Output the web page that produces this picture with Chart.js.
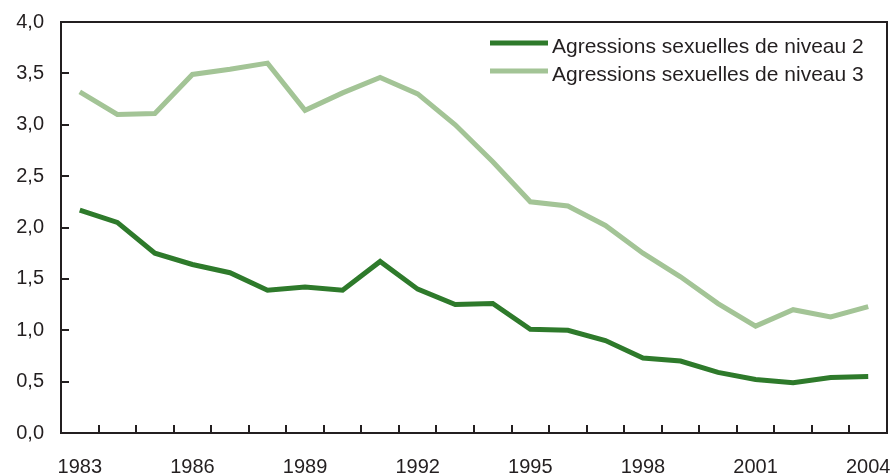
<!DOCTYPE html>
<html>
<head>
<meta charset="utf-8">
<script src="https://cdn.jsdelivr.net/npm/chart.js@4/dist/chart.umd.min.js"></script>
<style>
  html, body { margin: 0; padding: 0; background: #fff; }
  #wrap { width: 892px; height: 475px; }
</style>
</head>
<body>
<div id="wrap"><canvas id="chart" width="892" height="475"></canvas></div>
<script>
// Data
const years = ['1983', '1984', '1985', '1986', '1987', '1988', '1989', '1990', '1991', '1992', '1993',
               '1994', '1995', '1996', '1997', '1998', '1999', '2000', '2001', '2002', '2003', '2004'];
const niveau2 = [2.17, 2.05, 1.75, 1.64, 1.56, 1.39, 1.42, 1.39, 1.67, 1.40, 1.25,
                 1.26, 1.01, 1.00, 0.90, 0.73, 0.70, 0.59, 0.52, 0.49, 0.54, 0.55];
const niveau3 = [3.32, 3.10, 3.11, 3.49, 3.54, 3.60, 3.14, 3.31, 3.46, 3.30, 3.00,
                 2.64, 2.25, 2.21, 2.02, 1.75, 1.52, 1.26, 1.04, 1.20, 1.13, 1.23];
const seriesNames = ['Agressions sexuelles de niveau 2', 'Agressions sexuelles de niveau 3'];

const FONT = '"Liberation Sans", Arial, Helvetica, sans-serif';
const INK = '#231f20';

// frame, inward tick marks and legend inside the plot
const framePlugin = {
  id: 'frame',
  afterDraw(chart) {
    const ctx = chart.ctx;
    const a = chart.chartArea;
    const x = chart.scales.x, y = chart.scales.y;
    ctx.save();
    ctx.strokeStyle = INK;
    ctx.lineWidth = 2;
    ctx.strokeRect(a.left, a.top, a.right - a.left, a.bottom - a.top);

    ctx.beginPath();
    y.ticks.forEach(t => {
      const py = Math.round(y.getPixelForValue(t.value));
      ctx.moveTo(a.left, py);
      ctx.lineTo(a.left + 8, py);
    });
    for (let i = 1; i < years.length; i++) {
      const px = Math.round((x.getPixelForValue(i - 1) + x.getPixelForValue(i)) / 2);
      ctx.moveTo(px, a.bottom);
      ctx.lineTo(px, a.bottom - 8);
    }
    ctx.stroke();

    // legend
    ctx.font = '21px ' + FONT;
    ctx.textBaseline = 'alphabetic';
    ctx.fillStyle = INK;
    chart.data.datasets.forEach((ds, i) => {
      const ly = 43 + i * 28;
      ctx.strokeStyle = ds.borderColor;
      ctx.lineWidth = 5;
      ctx.beginPath();
      ctx.moveTo(490, ly);
      ctx.lineTo(548, ly);
      ctx.stroke();
      ctx.fillText(ds.label, 552, ly + 10);
    });
    ctx.restore();
  }
};

new Chart(document.getElementById('chart').getContext('2d'), {
  type: 'line',
  data: {
    labels: years,
    datasets: [
      {
        label: seriesNames[0],
        data: niveau2,
        borderColor: '#2e7a2b',
        borderWidth: 5,
        pointRadius: 0,
        tension: 0,
        borderJoinStyle: 'miter'
      },
      {
        label: seriesNames[1],
        data: niveau3,
        borderColor: '#a3c496',
        borderWidth: 5,
        pointRadius: 0,
        tension: 0,
        borderJoinStyle: 'miter'
      }
    ]
  },
  options: {
    responsive: false,
    animation: false,
    layout: { padding: { top: 22, right: 5, left: 0, bottom: 0 } },
    plugins: {
      legend: { display: false },
      tooltip: { enabled: false }
    },
    scales: {
      x: {
        offset: true,
        grid: { display: false, drawTicks: false },
        border: { display: false },
        afterFit(s) { s.height = 42; s.paddingLeft = 0; s.paddingRight = 0; },
        ticks: {
          autoSkip: false,
          maxRotation: 0,
          padding: 22,
          color: INK,
          font: { family: FONT, size: 20 },
          callback(v, i) { return i % 3 === 0 ? years[i] : ''; }
        }
      },
      y: {
        min: 0,
        max: 4,
        grid: { display: false, drawTicks: false },
        border: { display: false },
        afterFit(s) { s.width = 61; s.paddingTop = 0; s.paddingBottom = 0; },
        ticks: {
          stepSize: 0.5,
          padding: 17,
          color: INK,
          font: { family: FONT, size: 20 },
          callback(v) { return v.toFixed(1).replace('.', ','); }
        }
      }
    }
  },
  plugins: [framePlugin]
});
</script>
</body>
</html>
